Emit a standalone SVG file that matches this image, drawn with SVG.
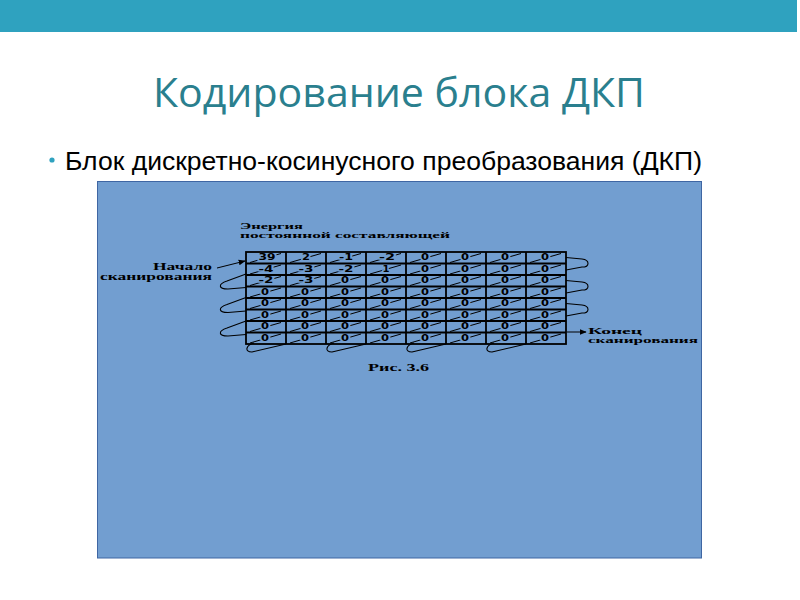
<svg xmlns="http://www.w3.org/2000/svg" width="800" height="600" viewBox="0 0 800 600">
<defs>
<style>
.title{font-family:"Open Sans","Noto Sans","DejaVu Sans",sans-serif;font-size:40px;fill:#2a7f8e}
.bullet{font-family:"Liberation Sans","Arial",sans-serif;font-size:25px;fill:#000}
.lbl{font-family:"Liberation Serif","Times New Roman",serif;font-weight:bold;font-size:10.5px;fill:#000}
.lbs{font-family:"Liberation Serif","Times New Roman",serif;font-weight:bold;font-size:9px;fill:#000}
.num{font-family:"DejaVu Sans","Liberation Sans",sans-serif;font-weight:bold;font-size:9px;fill:#000;text-anchor:middle;stroke:#729ed0;stroke-width:3px;paint-order:stroke;stroke-linejoin:round}
.grid{stroke:#000;stroke-width:1.8;fill:none}
.diag{stroke:#000;stroke-width:1}
.loop{stroke:#000;stroke-width:1.1;fill:none}
</style>
<marker id="ah" viewBox="0 0 10 10" refX="9" refY="5" markerWidth="7" markerHeight="7" markerUnits="userSpaceOnUse" orient="auto">
<path d="M0,1 L10,5 L0,9 Z" fill="#000"/>
</marker>
</defs>
<rect x="0" y="0" width="800" height="600" fill="#fff"/>
<rect x="0" y="0" width="797" height="32" fill="#2fa2bf"/>
<g id="title"><text class="title" x="153" y="107" textLength="492" lengthAdjust="spacingAndGlyphs">Кодирование блока ДКП</text></g>
<g id="bullet">
<circle cx="52" cy="160" r="2.6" fill="#2fa2bf"/>
<text class="bullet" x="65" y="170" textLength="637" lengthAdjust="spacingAndGlyphs">Блок дискретно-косинусного преобразования (ДКП)</text>
</g>
<g id="panel"><rect x="97.5" y="181.5" width="604" height="376.5" fill="#729ed0" stroke="#3f66a3" stroke-width="1"/></g>

<g id="labels">
<text class="lbs" x="240" y="228.5" textLength="63" lengthAdjust="spacingAndGlyphs">Энергия</text>
<text class="lbs" x="240" y="237.5" textLength="210" lengthAdjust="spacingAndGlyphs">постоянной составляющей</text>
<text class="lbl" x="153" y="270" textLength="59" lengthAdjust="spacingAndGlyphs">Начало</text>
<text class="lbl" x="100" y="280" textLength="112" lengthAdjust="spacingAndGlyphs">сканирования</text>
<text class="lbs" x="588" y="334" textLength="54" lengthAdjust="spacingAndGlyphs">Конец</text>
<text class="lbs" x="588" y="343" textLength="110" lengthAdjust="spacingAndGlyphs">сканирования</text>
<text class="lbl" x="368" y="371" textLength="61" lengthAdjust="spacingAndGlyphs">Рис. 3.6</text>
</g>

<g id="matrix">
<g id="diagonals">
<path class="diag" d="M250,262.5 L281,253.5 M290,262.5 L321,253.5 M330,262.5 L361,253.5 M370,262.5 L401,253.5 M410,262.5 L441,253.5 M450,262.5 L481,253.5 M490,262.5 L521,253.5 M530,262.5 L561,253.5
M250,274 L281,265 M290,274 L321,265 M330,274 L361,265 M370,274 L401,265 M410,274 L441,265 M450,274 L481,265 M490,274 L521,265 M530,274 L561,265
M250,285.5 L281,276.5 M290,285.5 L321,276.5 M330,285.5 L361,276.5 M370,285.5 L401,276.5 M410,285.5 L441,276.5 M450,285.5 L481,276.5 M490,285.5 L521,276.5 M530,285.5 L561,276.5
M250,297 L281,288 M290,297 L321,288 M330,297 L361,288 M370,297 L401,288 M410,297 L441,288 M450,297 L481,288 M490,297 L521,288 M530,297 L561,288
M250,308.5 L281,299.5 M290,308.5 L321,299.5 M330,308.5 L361,299.5 M370,308.5 L401,299.5 M410,308.5 L441,299.5 M450,308.5 L481,299.5 M490,308.5 L521,299.5 M530,308.5 L561,299.5
M250,320 L281,311 M290,320 L321,311 M330,320 L361,311 M370,320 L401,311 M410,320 L441,311 M450,320 L481,311 M490,320 L521,311 M530,320 L561,311
M250,331.5 L281,322.5 M290,331.5 L321,322.5 M330,331.5 L361,322.5 M370,331.5 L401,322.5 M410,331.5 L441,322.5 M450,331.5 L481,322.5 M490,331.5 L521,322.5 M530,331.5 L561,322.5
M250,343 L281,334 M290,343 L321,334 M330,343 L361,334 M370,343 L401,334 M410,343 L441,334 M450,343 L481,334 M490,343 L521,334 M530,343 L561,334"/>
</g>
<g id="numbers">
<text class="num" x="267" y="260" textLength="17" lengthAdjust="spacingAndGlyphs">39</text><text class="num" x="306" y="260" textLength="8" lengthAdjust="spacingAndGlyphs">2</text><text class="num" x="346" y="260" textLength="14" lengthAdjust="spacingAndGlyphs">-1</text><text class="num" x="387" y="260" textLength="16" lengthAdjust="spacingAndGlyphs">-2</text><text class="num" x="425" y="260" textLength="8" lengthAdjust="spacingAndGlyphs">0</text><text class="num" x="465" y="260" textLength="8" lengthAdjust="spacingAndGlyphs">0</text><text class="num" x="505" y="260" textLength="8" lengthAdjust="spacingAndGlyphs">0</text><text class="num" x="545" y="260" textLength="8" lengthAdjust="spacingAndGlyphs">0</text>
<text class="num" x="266" y="271.5" textLength="15" lengthAdjust="spacingAndGlyphs">-4</text><text class="num" x="306" y="271.5" textLength="15" lengthAdjust="spacingAndGlyphs">-3</text><text class="num" x="346" y="271.5" textLength="15" lengthAdjust="spacingAndGlyphs">-2</text><text class="num" x="386" y="271.5" textLength="7" lengthAdjust="spacingAndGlyphs">1</text><text class="num" x="425" y="271.5" textLength="8" lengthAdjust="spacingAndGlyphs">0</text><text class="num" x="465" y="271.5" textLength="8" lengthAdjust="spacingAndGlyphs">0</text><text class="num" x="505" y="271.5" textLength="8" lengthAdjust="spacingAndGlyphs">0</text><text class="num" x="545" y="271.5" textLength="8" lengthAdjust="spacingAndGlyphs">0</text>
<text class="num" x="266" y="283" textLength="15" lengthAdjust="spacingAndGlyphs">-2</text><text class="num" x="306" y="283" textLength="15" lengthAdjust="spacingAndGlyphs">-3</text><text class="num" x="345" y="283" textLength="8" lengthAdjust="spacingAndGlyphs">0</text><text class="num" x="385" y="283" textLength="8" lengthAdjust="spacingAndGlyphs">0</text><text class="num" x="425" y="283" textLength="8" lengthAdjust="spacingAndGlyphs">0</text><text class="num" x="465" y="283" textLength="8" lengthAdjust="spacingAndGlyphs">0</text><text class="num" x="505" y="283" textLength="8" lengthAdjust="spacingAndGlyphs">0</text><text class="num" x="545" y="283" textLength="8" lengthAdjust="spacingAndGlyphs">0</text>
<text class="num" x="265" y="294.5" textLength="8" lengthAdjust="spacingAndGlyphs">0</text><text class="num" x="305" y="294.5" textLength="8" lengthAdjust="spacingAndGlyphs">0</text><text class="num" x="345" y="294.5" textLength="8" lengthAdjust="spacingAndGlyphs">0</text><text class="num" x="385" y="294.5" textLength="8" lengthAdjust="spacingAndGlyphs">0</text><text class="num" x="425" y="294.5" textLength="8" lengthAdjust="spacingAndGlyphs">0</text><text class="num" x="465" y="294.5" textLength="8" lengthAdjust="spacingAndGlyphs">0</text><text class="num" x="505" y="294.5" textLength="8" lengthAdjust="spacingAndGlyphs">0</text><text class="num" x="545" y="294.5" textLength="8" lengthAdjust="spacingAndGlyphs">0</text>
<text class="num" x="265" y="306" textLength="8" lengthAdjust="spacingAndGlyphs">0</text><text class="num" x="305" y="306" textLength="8" lengthAdjust="spacingAndGlyphs">0</text><text class="num" x="345" y="306" textLength="8" lengthAdjust="spacingAndGlyphs">0</text><text class="num" x="385" y="306" textLength="8" lengthAdjust="spacingAndGlyphs">0</text><text class="num" x="425" y="306" textLength="8" lengthAdjust="spacingAndGlyphs">0</text><text class="num" x="465" y="306" textLength="8" lengthAdjust="spacingAndGlyphs">0</text><text class="num" x="505" y="306" textLength="8" lengthAdjust="spacingAndGlyphs">0</text><text class="num" x="545" y="306" textLength="8" lengthAdjust="spacingAndGlyphs">0</text>
<text class="num" x="265" y="317.5" textLength="8" lengthAdjust="spacingAndGlyphs">0</text><text class="num" x="305" y="317.5" textLength="8" lengthAdjust="spacingAndGlyphs">0</text><text class="num" x="345" y="317.5" textLength="8" lengthAdjust="spacingAndGlyphs">0</text><text class="num" x="385" y="317.5" textLength="8" lengthAdjust="spacingAndGlyphs">0</text><text class="num" x="425" y="317.5" textLength="8" lengthAdjust="spacingAndGlyphs">0</text><text class="num" x="465" y="317.5" textLength="8" lengthAdjust="spacingAndGlyphs">0</text><text class="num" x="505" y="317.5" textLength="8" lengthAdjust="spacingAndGlyphs">0</text><text class="num" x="545" y="317.5" textLength="8" lengthAdjust="spacingAndGlyphs">0</text>
<text class="num" x="265" y="329" textLength="8" lengthAdjust="spacingAndGlyphs">0</text><text class="num" x="305" y="329" textLength="8" lengthAdjust="spacingAndGlyphs">0</text><text class="num" x="345" y="329" textLength="8" lengthAdjust="spacingAndGlyphs">0</text><text class="num" x="385" y="329" textLength="8" lengthAdjust="spacingAndGlyphs">0</text><text class="num" x="425" y="329" textLength="8" lengthAdjust="spacingAndGlyphs">0</text><text class="num" x="465" y="329" textLength="8" lengthAdjust="spacingAndGlyphs">0</text><text class="num" x="505" y="329" textLength="8" lengthAdjust="spacingAndGlyphs">0</text><text class="num" x="545" y="329" textLength="8" lengthAdjust="spacingAndGlyphs">0</text>
<text class="num" x="265" y="340.5" textLength="8" lengthAdjust="spacingAndGlyphs">0</text><text class="num" x="305" y="340.5" textLength="8" lengthAdjust="spacingAndGlyphs">0</text><text class="num" x="345" y="340.5" textLength="8" lengthAdjust="spacingAndGlyphs">0</text><text class="num" x="385" y="340.5" textLength="8" lengthAdjust="spacingAndGlyphs">0</text><text class="num" x="425" y="340.5" textLength="8" lengthAdjust="spacingAndGlyphs">0</text><text class="num" x="465" y="340.5" textLength="8" lengthAdjust="spacingAndGlyphs">0</text><text class="num" x="505" y="340.5" textLength="8" lengthAdjust="spacingAndGlyphs">0</text><text class="num" x="545" y="340.5" textLength="8" lengthAdjust="spacingAndGlyphs">0</text>
</g>
<g id="gridlines">
<rect class="grid" x="246" y="252" width="320" height="92"/>
<path class="grid" d="M286,252 V344 M326,252 V344 M366,252 V344 M406,252 V344 M446,252 V344 M486,252 V344 M526,252 V344
M246,263.5 H566 M246,275 H566 M246,286.5 H566 M246,298 H566 M246,309.5 H566 M246,321 H566 M246,332.5 H566"/>
</g>
</g>

<g id="connectors">
<path class="loop" d="M246,274 L227,281 C218,284 218,289 228,289 L246,287.5"/>
<path class="loop" d="M246,297.5 L227,304.5 C218,307.5 218,312.5 228,312.5 L246,311"/>
<path class="loop" d="M246,321 L227,328 C218,331 218,336 228,336 L246,334.5"/>
<path class="loop" d="M566,257.5 L582,259 C590,260 590,267 582,267 L566,270"/>
<path class="loop" d="M566,280.5 L582,282 C590,283 590,290 582,290 L566,293"/>
<path class="loop" d="M566,303.5 L582,305 C590,306 590,313 582,313 L566,316"/>
<path class="loop" d="M254,343 C246,345 244,352 252,352 L286,344"/>
<path class="loop" d="M334,343 C326,345 324,352 332,352 L366,344"/>
<path class="loop" d="M414,343 C406,345 404,352 412,352 L446,344"/>
<path class="loop" d="M494,343 C486,345 484,352 492,352 L526,344"/>
<line x1="217" y1="268" x2="245" y2="261" stroke="#000" stroke-width="1" marker-end="url(#ah)"/>
<line x1="567" y1="332" x2="586" y2="332" stroke="#000" stroke-width="1" marker-end="url(#ah)"/>
</g>
</svg>
